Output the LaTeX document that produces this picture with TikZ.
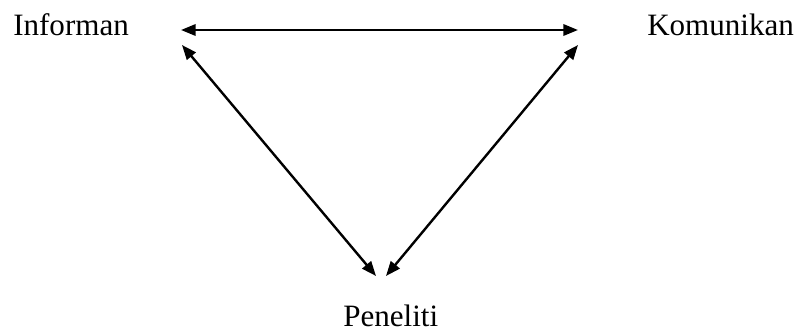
\documentclass[tikz,border=0pt]{standalone}
\usepackage{fontspec}
\setmainfont{Liberation Serif}
\usetikzlibrary{arrows.meta}
\tikzset{px/.style={x=0.75pt,y=-0.75pt},
  lbl/.style={inner sep=0pt,anchor=base west,font=\fontsize{23.3}{27}\selectfont},
  link/.style={line width=1.8pt,{Triangle[length=11pt,width=8.5pt]}-{Triangle[length=11pt,width=8.5pt]}}}

\begin{document}
\begin{tikzpicture}[px]
    \useasboundingbox (0,0) rectangle (801,332);
    % the three parties
    \node[lbl] (info) at (13,36) {Informan};
    \node[lbl] (komu) at (647,36) {Komunikan};
    \node[lbl] (peneliti) at (343,326) {Peneliti};
    % arrow ends
    \coordinate (infoR) at (181,30);
    \coordinate (komuL) at (578,30);
    \coordinate (infoD) at (182,45);
    \coordinate (komuD) at (578,45);
    \coordinate (penL) at (376,276);
    \coordinate (penR) at (386,276);
    \draw[link] (infoR) -- (komuL);
    \draw[link] (infoD) -- (penL);
    \draw[link] (komuD) -- (penR);
\end{tikzpicture}
\end{document}
